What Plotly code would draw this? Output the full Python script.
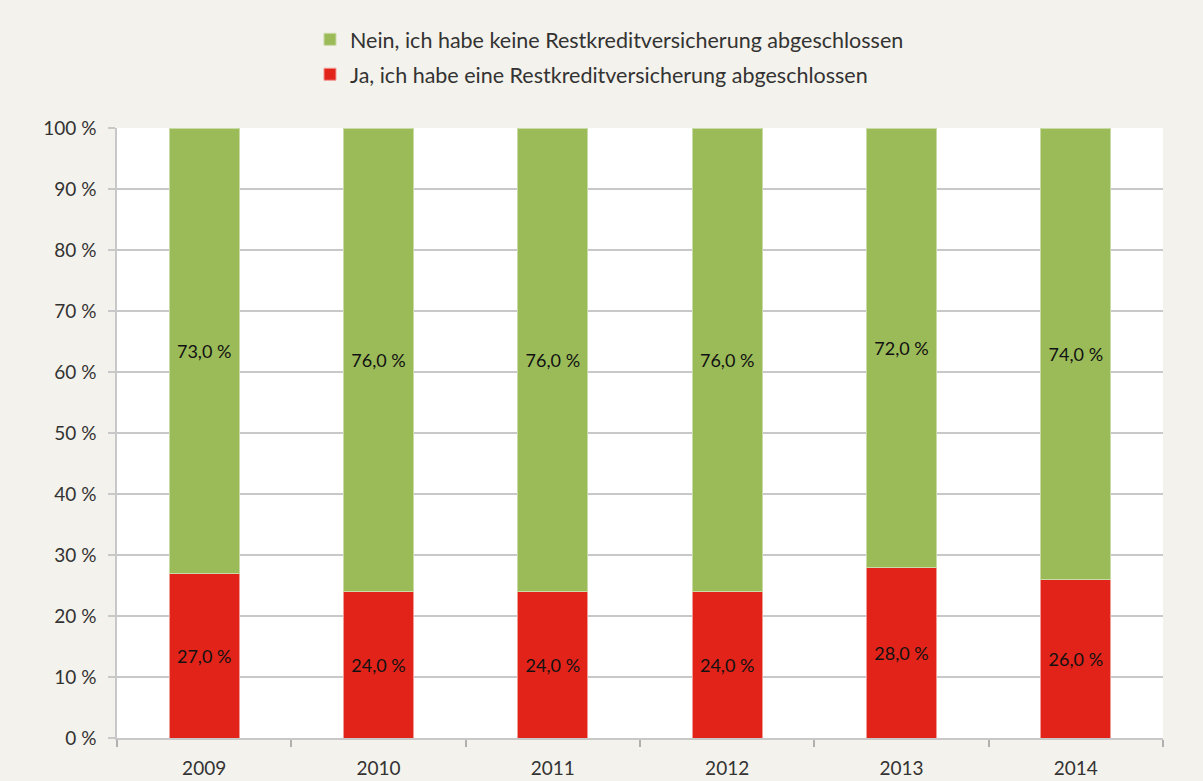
import plotly.graph_objects as go

years = ["2009", "2010", "2011", "2012", "2013", "2014"]
ja = [27.0, 24.0, 24.0, 24.0, 28.0, 26.0]
nein = [73.0, 76.0, 76.0, 76.0, 72.0, 74.0]
name_ja = "Ja, ich habe eine Restkreditversicherung abgeschlossen"
name_nein = "Nein, ich habe keine Restkreditversicherung abgeschlossen"

FONT = "Lato, 'Open Sans', sans-serif"

fig = go.Figure()
fig.add_trace(go.Bar(
    x=years, y=ja, name=name_ja, legendgroup="ja", legendrank=2,
    marker=dict(color="#e2231a", line=dict(color="#f29a96", width=1)),
    texttemplate="%{y:.1f} %", textposition="inside", insidetextanchor="middle",
    textfont=dict(size=18, color="#111111", family=FONT), textangle=0,
    hoverinfo="skip",
))
fig.add_trace(go.Bar(
    x=years, y=nein, name=name_nein, legendgroup="nein", legendrank=1,
    marker=dict(color="#9bbb59", line=dict(color="#c9dba6", width=1)),
    texttemplate="%{y:.1f} %", textposition="inside", insidetextanchor="middle",
    textfont=dict(size=18, color="#111111", family=FONT), textangle=0,
    hoverinfo="skip",
))

fig.update_layout(
    width=1203, height=781,
    barmode="stack", bargap=0.6,
    separators=",.",
    paper_bgcolor="#f3f2ec", plot_bgcolor="#ffffff",
    margin=dict(l=117, r=40, t=128, b=43, autoexpand=False),
    font=dict(family=FONT, color="#333333", size=19),
    legend=dict(
        orientation="v", traceorder="grouped", tracegroupgap=4,
        x=0.1845, xanchor="left",
        y=1.179, yanchor="top",
        font=dict(size=21.5, color="#333333", family=FONT),
        bgcolor="rgba(0,0,0,0)",
    ),
    showlegend=True,
    uniformtext=dict(mode=False),
)

fig.update_yaxes(
    range=[0, 100], dtick=10, tick0=0, ticksuffix=" %",
    showgrid=True, gridcolor="#c8c8c8", gridwidth=1.5,
    ticks="outside", ticklen=7, tickcolor="#c8c8c8", tickwidth=1.5,
    ticklabelstandoff=8,
    showline=True, linecolor="#c8c8c8", linewidth=1.5,
    tickfont=dict(size=19, color="#333333", family=FONT),
    zeroline=False, fixedrange=True, automargin=False,
)
fig.update_xaxes(
    type="category", tickson="boundaries", tickangle=0,
    ticks="outside", ticklen=7, tickcolor="#b0b0b0", tickwidth=1.5,
    ticklabelstandoff=12,
    showline=True, linecolor="#c8c8c8", linewidth=1.5,
    showgrid=False,
    tickfont=dict(size=19, color="#333333", family=FONT),
    fixedrange=True, automargin=False,
)

fig.write_html("out.html", config={"displayModeBar": False},
               post_script="document.body.style.margin='0';")
